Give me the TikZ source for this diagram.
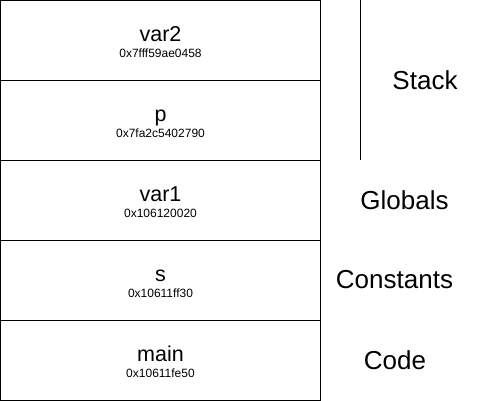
\documentclass[tikz,border=0pt]{standalone}
\usepackage{fontspec}
\setmainfont{Liberation Sans}
\begin{document}
\begin{tikzpicture}[x=1pt,y=-1pt,
  cell/.style={draw=black,line width=1pt,minimum width=320pt,minimum height=80pt,inner sep=0pt,outer sep=0pt,anchor=north west},
  nm/.style={font=\fontsize{21.5}{24}\selectfont,inner sep=0pt,anchor=base},
  addr/.style={font=\fontsize{12}{14}\selectfont,inner sep=0pt,anchor=base},
  seg/.style={font=\fontsize{26}{30}\selectfont,inner sep=0pt}]
\useasboundingbox (0,0) rectangle (491,401);
\node[cell] (b1) at (0.5,0.5) {};
\node[cell] (b2) at (0.5,80.5) {};
\node[cell] (b3) at (0.5,160.5) {};
\node[cell] (b4) at (0.5,240.5) {};
\node[cell] (b5) at (0.5,320.5) {};
\node[nm] (n1) at (160.5,42) {var2};
\node[addr] (a1) at (160.5,57.5) {0x7fff59ae0458};
\node[nm] (n2) at (160.5,122) {p};
\node[addr] (a2) at (160.5,137.5) {0x7fa2c5402790};
\node[nm] (n3) at (160.5,202) {var1};
\node[addr] (a3) at (160.5,217.5) {0x106120020};
\node[nm] (n4) at (160.5,282) {s};
\node[addr] (a4) at (160.5,297.5) {0x10611ff30};
\node[nm] (n5) at (160.5,362) {main};
\node[addr] (a5) at (160.5,377.5) {0x10611fe50};
\coordinate (lt) at (360.5,0);
\coordinate (lb) at (360.5,160);
\draw[line width=1pt] (lt) -- (lb);
\node[seg] (stack) at (425,80) {Stack};
\node[seg] (glob) at (404.5,200) {Globals};
\node[seg] (const) at (394.5,280) {Constants};
\node[seg] (code) at (395,360) {Code};
\end{tikzpicture}
\end{document}
